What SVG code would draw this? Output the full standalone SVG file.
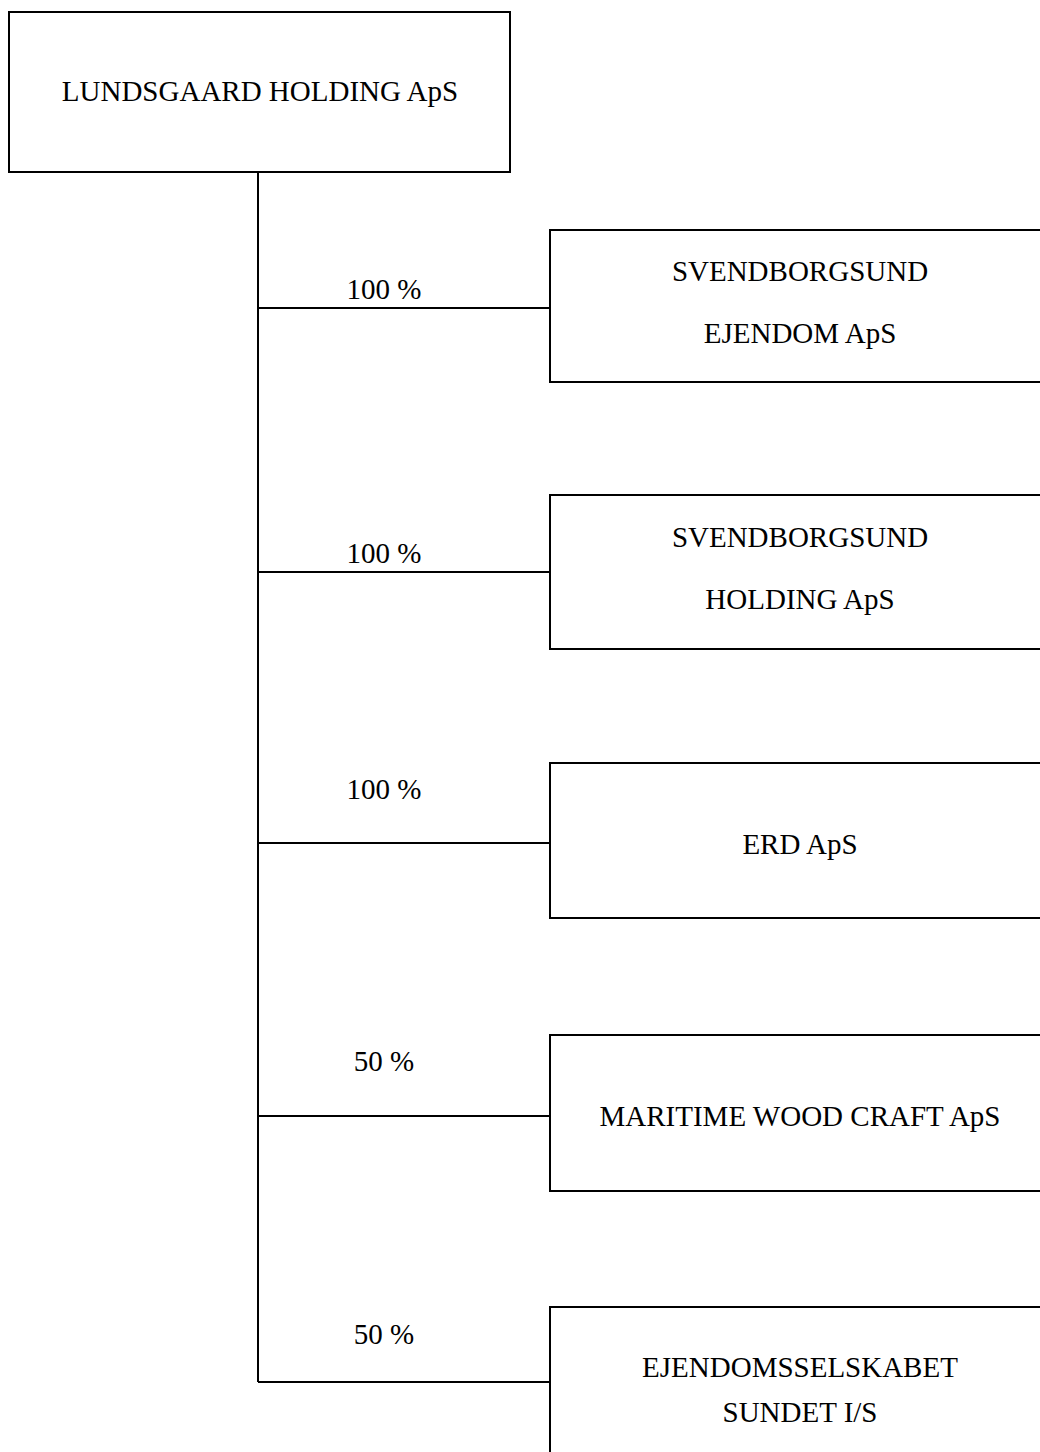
<svg xmlns="http://www.w3.org/2000/svg" width="1040" height="1452" viewBox="0 0 1040 1452">
<style>
.box{fill:#fff;stroke:#000;stroke-width:2}
.ln{stroke:#000;stroke-width:2;fill:none}
text{font-family:"Liberation Serif","Times New Roman",serif;font-size:29px;fill:#000;text-anchor:middle}
</style>
<rect width="1040" height="1452" fill="#fff"/>
<g id="connectors">
<path class="ln" d="M258 172V1382M258 308H550M258 572H550M258 843H550M258 1116H550M258 1382H550"/>
<text x="384" y="299">100 %</text>
<text x="384" y="563">100 %</text>
<text x="384" y="799">100 %</text>
<text x="384" y="1071">50 %</text>
<text x="384" y="1344">50 %</text>
</g>
<g id="lundsgaard">
<rect class="box" x="9" y="12" width="501" height="160"/>
<text x="260" y="101">LUNDSGAARD HOLDING ApS</text>
</g>
<g id="svendborgsund-ejendom">
<rect class="box" x="550" y="230" width="510" height="152"/>
<text x="800" y="281">SVENDBORGSUND</text>
<text x="800" y="343">EJENDOM ApS</text>
</g>
<g id="svendborgsund-holding">
<rect class="box" x="550" y="495" width="510" height="154"/>
<text x="800" y="547">SVENDBORGSUND</text>
<text x="800" y="609">HOLDING ApS</text>
</g>
<g id="erd">
<rect class="box" x="550" y="763" width="510" height="155"/>
<text x="800" y="854">ERD ApS</text>
</g>
<g id="maritime">
<rect class="box" x="550" y="1035" width="510" height="156"/>
<text x="800" y="1126">MARITIME WOOD CRAFT ApS</text>
</g>
<g id="ejendomsselskabet">
<rect class="box" x="550" y="1307" width="510" height="170"/>
<text x="800" y="1377">EJENDOMSSELSKABET</text>
<text x="800" y="1422">SUNDET I/S</text>
</g>
</svg>
